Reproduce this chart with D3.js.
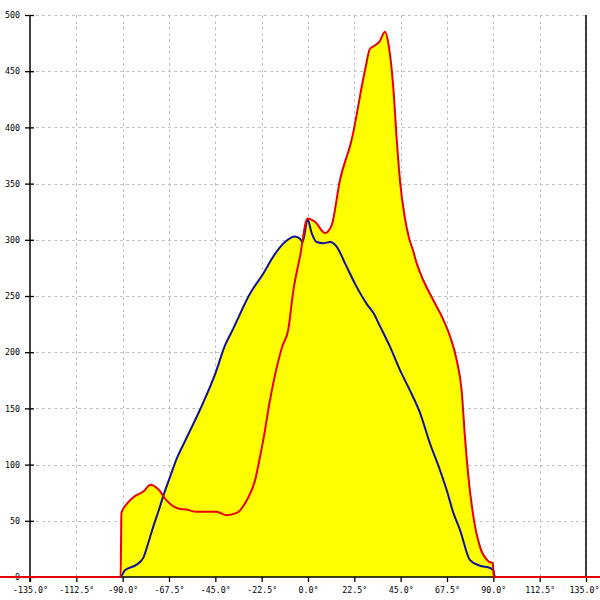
<!DOCTYPE html>
<html>
<head>
<meta charset="utf-8">
<script src="https://cdn.jsdelivr.net/npm/d3@7/dist/d3.min.js"></script>
<style>
  html, body { margin: 0; padding: 0; background: #fff; }
  svg { display: block; }
  .axis text { font-family: "DejaVu Sans Mono", monospace; font-size: 8.3px; fill: #000; }
</style>
</head>
<body>
<svg id="chart" width="600" height="600"></svg>
<script>
// ---- data ----
const xTicks = [-135, -112.5, -90, -67.5, -45, -22.5, 0, 22.5, 45, 67.5, 90, 112.5, 135];
const yTicks = [0, 50, 100, 150, 200, 250, 300, 350, 400, 450, 500];

const redAngles = [-180, -91, -90.6, -88, -84.8, -80, -76.4, -72.7, -68.6, -63, -58.9, -54, -44.3, -39.8, -34.6, -29.8, -25.7, -23.3, -21.7, -18.5, -12.5, -9.6, -7.1, -3.9, -0.2, 3.4, 8.3, 11.5, 15.5, 21.2, 27.7, 30.1, 31.7, 34.6, 37.4, 39, 41.4, 43.1, 44.7, 47, 49, 51.1, 52.8, 56, 60.9, 65.7, 69, 72.2, 74.6, 76.2, 77.9, 80.3, 83.5, 87.6, 89.7, 90.3, 180];
const redValues = [0, 0, 57, 65, 71, 76, 82, 78, 68, 61, 60, 58, 58, 55, 57, 68, 86, 107, 122, 157, 205, 220, 255, 285, 319, 316, 306, 313, 353, 389, 451, 470, 472, 476, 485, 475, 436, 389, 352, 320, 302, 290, 279, 264, 246, 229, 214, 193, 166, 125, 89, 54, 27, 14, 12, 0, 0];

const blueAngles = [-180, -91.3, -88.9, -83.2, -80, -77.6, -75.1, -72.7, -70.3, -67, -63.8, -59.7, -52.4, -45.2, -40.3, -36.3, -28.2, -21.7, -16.9, -11.2, -6.3, -3.9, -2.6, -0.2, 1.8, 4.2, 7.4, 10.7, 13.9, 18, 22.8, 28.5, 31.7, 35, 39.8, 44.7, 49.5, 54.4, 59.2, 64.1, 67.4, 70.6, 73.8, 78.7, 83.5, 88.4, 90, 90.8, 180];
const blueValues = [0, 0, 6, 11, 17, 30, 45, 58, 72, 89, 105, 121, 149, 180, 206, 221, 252, 270, 285, 298, 303, 301, 298, 318, 306, 298, 297, 298, 294, 279, 261, 243, 235, 223, 205, 184, 166, 146, 119, 95, 77, 57, 42, 15, 10, 8, 6, 0, 0];

// ---- chart ----
const svg = d3.select("#chart");
const L = 30, R = 586, T = 15, B = 577;
const x = d3.scaleLinear().domain([-135, 135]).range([L, R]);
const y = d3.scaleLinear().domain([0, 500]).range([B, T]);

const red = redAngles.map((a, i) => [a, redValues[i]]);
const blue = blueAngles.map((a, i) => [a, blueValues[i]]);

// grid
const grid = svg.append("g").attr("stroke", "#c4c4c4").attr("stroke-dasharray", "3,3").attr("stroke-width", 1);
grid.selectAll("line.v").data(xTicks.filter(d => d !== -135)).enter().append("line")
  .attr("x1", d => Math.round(x(d)) + 0.5).attr("x2", d => Math.round(x(d)) + 0.5)
  .attr("y1", T).attr("y2", B);
grid.selectAll("line.h").data(yTicks.filter(d => d !== 0)).enter().append("line")
  .attr("x1", L).attr("x2", R)
  .attr("y1", d => Math.round(y(d)) + 0.5).attr("y2", d => Math.round(y(d)) + 0.5);

const curve = d3.curveMonotoneX;
const area = d3.area().x(d => x(d[0])).y0(y(0)).y1(d => y(d[1])).curve(curve);
const line = d3.line().x(d => x(d[0])).y(d => y(d[1])).curve(curve);

svg.append("path").datum(blue).attr("d", area).attr("fill", "#ffff00");
svg.append("path").datum(red).attr("d", area).attr("fill", "#ffff00");

// axes
const xAxis = svg.append("g").attr("class", "axis").attr("transform", `translate(0,${B})`)
  .call(d3.axisBottom(x).tickValues(xTicks).tickSize(5).tickPadding(5).tickFormat(d => d.toFixed(1) + "°"));
const yAxis = svg.append("g").attr("class", "axis").attr("transform", `translate(${L},0)`)
  .call(d3.axisLeft(y).tickValues(yTicks).tickSize(5).tickPadding(5).tickFormat(d => String(d)));
yAxis.selectAll(".tick").append("line").attr("x2", 4).attr("stroke", "#000");
[xAxis, yAxis].forEach(g => {
  g.select(".domain").remove();
  g.selectAll(".tick line").attr("stroke", "#000").attr("stroke-width", 1.3);
});
// keep the last x label inside the picture
xAxis.selectAll(".tick text").filter(d => d === 135).attr("text-anchor", "end").attr("x", 599 - R);

svg.append("line").attr("x1", L).attr("x2", L).attr("y1", T).attr("y2", B + 5).attr("stroke", "#000").attr("stroke-width", 1.5);
svg.append("line").attr("x1", L).attr("x2", R).attr("y1", B).attr("y2", B).attr("stroke", "#000").attr("stroke-width", 1.5);
svg.append("line").attr("x1", R).attr("x2", R).attr("y1", T).attr("y2", B).attr("stroke", "#000").attr("stroke-width", 1.5);

// lines
svg.append("path").datum(blue).attr("d", line).attr("fill", "none").attr("stroke", "#1010a0").attr("stroke-width", 2);
svg.append("path").datum(red).attr("d", line).attr("fill", "none").attr("stroke", "#e60000").attr("stroke-width", 2);
</script>
</body>
</html>
